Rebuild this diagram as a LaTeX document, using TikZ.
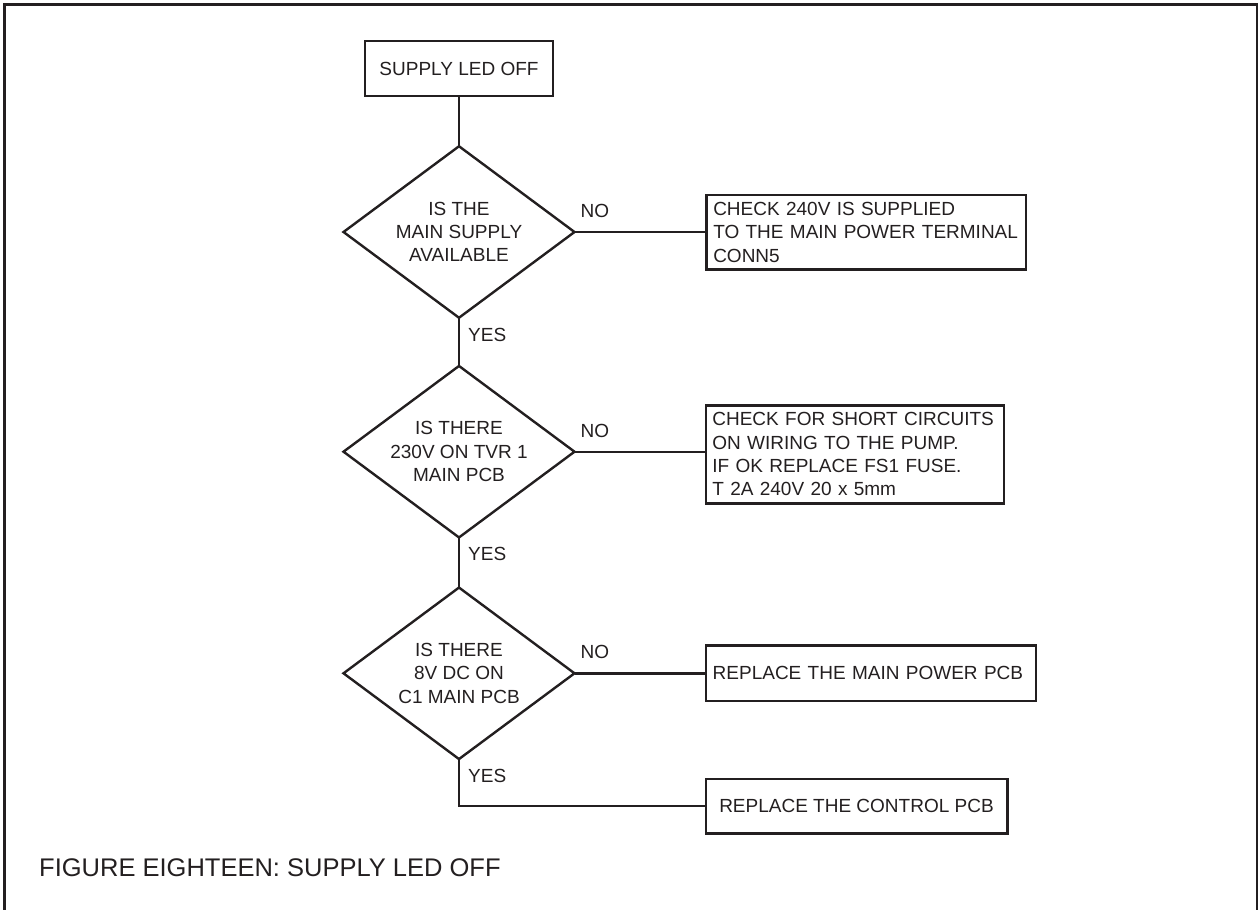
\documentclass[tikz,border=0pt]{standalone}
\usepackage{fontspec}
\setmainfont{Liberation Sans}
\usetikzlibrary{shapes.geometric}
\definecolor{ink}{HTML}{231F20}
\newcommand\figfont{\fontsize{19}{23.3}\selectfont}
\begin{document}
\begin{tikzpicture}[x=1pt,y=-1pt,color=ink,line width=2.4pt,
  boxnode/.style={draw,rectangle,inner ysep=0pt,outer sep=0pt,font=\figfont},
  dianode/.style={draw,diamond,aspect=1.347,minimum width=231,minimum height=171.5,
    inner sep=0pt,outer sep=0pt,align=center,font=\figfont},
  lbl/.style={inner sep=0pt,font=\figfont,anchor=west},
  conn/.style={line width=2.4pt}]
\useasboundingbox (0,0) rectangle (1258,910);
% frame (open at the bottom)
\draw[line width=3pt] (4,910) -- (4,4) -- (1257,4) -- (1257,910);

% start box
\node[boxnode,minimum width=188.4,minimum height=55,inner xsep=0pt] (b1) at (459,68.5) {SUPPLY LED OFF};

% decisions
\node[dianode] (d1) at (459,232) {IS THE\\MAIN SUPPLY\\AVAILABLE};
\node[dianode] (d2) at (459,451.7) {IS THERE\\230V ON TVR 1\\MAIN PCB};
\node[dianode] (d3) at (459,673.3) {IS THERE\\8V DC ON\\C1 MAIN PCB};

% action boxes
\node[boxnode,align=left,inner xsep=6.6pt,text width=306.1,minimum height=74.3] (b2) at (866.3,232.2)
  {CHECK 240V IS SUPPLIED\\TO THE MAIN POWER TERMINAL\\CONN5};
\node[boxnode,align=left,inner xsep=6.6pt,text width=285.1,minimum height=98] (b3) at (854.9,454.3)
  {CHECK FOR SHORT CIRCUITS\\ON WIRING TO THE PUMP.\\IF OK REPLACE FS1 FUSE.\\T 2A 240V 20 x 5mm};
\node[boxnode,align=left,inner xsep=7pt,text width=316.3,minimum height=55.4] (b4) at (870.85,673)
  {REPLACE THE MAIN POWER PCB};
\node[boxnode,inner xsep=0pt,minimum width=301.6,minimum height=54.6] (b5) at (856.5,806)
  {REPLACE THE CONTROL PCB};

% connectors
\draw[conn] (b1.south) -- (d1.north);
\draw[conn] (d1.east) -- (d1.east -| b2.west);
\draw[conn] (d1.south) -- (d2.north);
\draw[conn] (d2.east) -- (d2.east -| b3.west);
\draw[conn] (d2.south) -- (d3.north);
\draw[conn] (d3.east) -- (d3.east -| b4.west);
\draw[conn] (d3.south) |- (b5.west);

% labels
\node[lbl] (no1) at ([shift={(5,-21)}]d1.east) {NO};
\node[lbl] (no2) at ([shift={(5,-21)}]d2.east) {NO};
\node[lbl] (no3) at ([shift={(5,-21)}]d3.east) {NO};
\node[lbl] (yes1) at ([shift={(8,17)}]d1.south) {YES};
\node[lbl] (yes2) at ([shift={(8,17)}]d2.south) {YES};
\node[lbl] (yes3) at ([shift={(8,17)}]d3.south) {YES};

% caption
\node[inner sep=0pt,anchor=base west,font=\fontsize{25.5}{30}\selectfont] (cap) at (38,876)
  {FIGURE EIGHTEEN: SUPPLY LED OFF};
\end{tikzpicture}
\end{document}
